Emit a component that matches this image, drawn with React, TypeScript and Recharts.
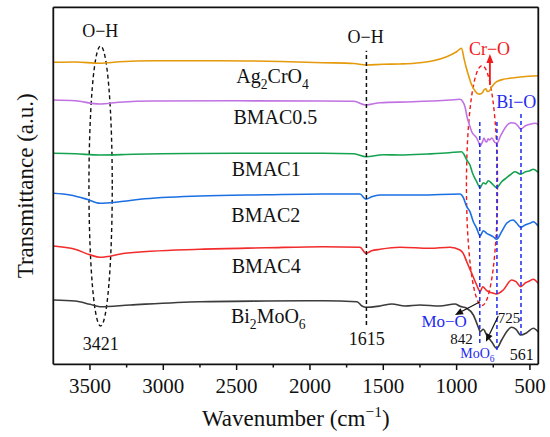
import React from 'react';
import { LineChart, Line, XAxis, YAxis, ReferenceLine, ReferenceArea, ReferenceDot } from 'recharts';

type Pt = { w: number; t: number };
const FONT = '"Liberation Serif", "Times New Roman", serif';
const TXT = { fontFamily: FONT };

const P = (arr: number[][]): Pt[] => arr.map(([w, t]) => ({ w, t }));

// Wavenumber (cm-1) vs transmittance (a.u., stacked offsets)
const ag2cro4 = P([
  [3750, 302], [3600, 302.3], [3434, 301], [3300, 302.5], [3070, 303.6], [2615, 303.6], [2200, 302.8],
  [1911, 301.6], [1700, 300.8], [1618, 299.3], [1500, 300], [1387, 300.3], [1250, 301.5], [1159, 303.6],
  [1068, 307.6], [1000, 312.6], [966, 316], [950, 306], [935, 297], [915, 287], [897, 279.3], [875, 273.5],
  [855, 270.5], [842, 270.2], [825, 271.5], [812, 274.5], [800, 275.5], [790, 272.8], [775, 273.5],
  [760, 277.5], [727, 282.6], [680, 285], [636, 286], [550, 287.5], [445, 288.6],
]);
const bmac05 = P([
  [3750, 264.3], [3600, 263.5], [3434, 260.3], [3300, 262], [3070, 263.3], [2500, 263.5], [1911, 263.3],
  [1700, 263], [1618, 259.3], [1522, 261.6], [1300, 262.5], [1045, 264.3], [977, 265], [955, 262],
  [943, 257.6], [929, 247.6], [910, 238], [897, 232.6], [863, 226.3], [850, 222], [840, 218.3], [825, 222],
  [813, 226.3], [803, 223], [795, 222.3], [785, 225.5], [776, 224.3], [759, 226.3], [740, 222], [725, 221.3],
  [701, 228.3], [680, 234], [659, 238.6], [625, 241.5], [602, 241], [580, 238], [563, 235.3], [530, 238.5],
  [500, 240], [459, 241], [445, 239.3],
]);
const bmac1 = P([
  [3750, 211], [3600, 210.5], [3432, 209.3], [3200, 210], [2500, 211], [1911, 211], [1700, 210.5],
  [1618, 207.6], [1500, 209.5], [1386, 209.3], [1200, 210.3], [1050, 211.5], [966, 212.6], [950, 210],
  [931, 204.3], [909, 199.3], [891, 191], [863, 182.6], [840, 176.6], [818, 181.6], [802, 180.3],
  [784, 183.6], [761, 181], [740, 178], [727, 176.6], [693, 182.6], [660, 186.5], [636, 189.3],
  [602, 192.6], [563, 190], [530, 192.5], [500, 193.6], [477, 195], [445, 192],
]);
const bmac2 = P([
  [3750, 171], [3636, 169.3], [3520, 165], [3432, 161], [3300, 162.5], [3159, 165], [2750, 168.3],
  [2300, 169.5], [1911, 170.3], [1659, 170.3], [1618, 165], [1580, 167.5], [1522, 169.3], [1250, 169.3],
  [977, 170.3], [955, 167], [931, 157.6], [909, 152.6], [886, 142.6], [863, 136], [840, 128.3],
  [818, 133.6], [795, 131], [773, 129.3], [750, 127.5], [727, 125], [693, 132.6], [659, 141],
  [614, 144.3], [590, 141], [563, 137], [530, 139.5], [500, 141], [477, 142.6], [445, 138.3],
]);
const bmac4 = P([
  [3750, 118.3], [3602, 115], [3500, 109.5], [3432, 107], [3261, 111], [2750, 115], [2300, 116.5],
  [1911, 117.6], [1659, 117], [1618, 111], [1580, 113.5], [1522, 115], [1386, 117], [1182, 116],
  [1045, 117], [977, 114.3], [955, 111], [931, 102.6], [897, 91], [863, 79.3], [840, 72.6], [822, 77.6],
  [795, 73.6], [760, 71.5], [727, 70.3], [682, 74.3], [625, 84.3], [595, 82.6], [563, 77.6], [530, 81.5],
  [500, 83.6], [477, 85], [445, 81],
]);
const bi2moo6 = P([
  [3750, 64.3], [3602, 63.3], [3500, 60], [3432, 57.6], [3227, 59.3], [2750, 62.6], [2300, 63.3],
  [1911, 63.6], [1679, 62.6], [1645, 58.3], [1618, 57], [1522, 58.3], [1441, 60.3], [1352, 58.3],
  [1250, 59.3], [1114, 58.3], [1011, 60.3], [977, 58], [931, 56], [886, 49.3], [852, 37], [840, 32.6],
  [818, 35], [795, 29.3], [761, 22.6], [727, 16], [693, 24.3], [659, 32.6], [625, 37], [595, 35],
  [563, 29.3], [522, 31.6], [477, 36], [445, 32.6],
]);

const SERIES = [
  { key: 'Ag2CrO4', data: ag2cro4, color: '#E59A0C' },
  { key: 'BMAC0.5', data: bmac05, color: '#C172E2' },
  { key: 'BMAC1', data: bmac1, color: '#15A350' },
  { key: 'BMAC2', data: bmac2, color: '#1B6FE3' },
  { key: 'BMAC4', data: bmac4, color: '#F22B2B' },
  { key: 'Bi2MoO6', data: bi2moo6, color: '#3C3C3C' },
];

const X_DOMAIN = [443, 3750];
const Y_DOMAIN = [0, 357];
const MAJOR_TICKS = [500, 1000, 1500, 2000, 2500, 3000, 3500];
const MINOR_TICKS = [750, 1250, 1750, 2250, 2750, 3250];
const ALL_TICKS = [...MAJOR_TICKS, ...MINOR_TICKS].sort((a, b) => a - b);

type Part = { s: string; sub?: boolean; sup?: boolean };
const SAMPLE_LABELS: { parts: Part[]; w: number; t: number }[] = [
  { parts: [{ s: 'Ag' }, { s: '2', sub: true }, { s: 'CrO' }, { s: '4', sub: true }], w: 2255, t: 281 },
  { parts: [{ s: 'BMAC0.5' }], w: 2236, t: 240.3 },
  { parts: [{ s: 'BMAC1' }], w: 2298, t: 188.3 },
  { parts: [{ s: 'BMAC2' }], w: 2301, t: 142.6 },
  { parts: [{ s: 'BMAC4' }], w: 2298, t: 91 },
  { parts: [{ s: 'Bi' }, { s: '2', sub: true }, { s: 'MoO' }, { s: '6', sub: true }], w: 2284, t: 41 },
];

const ANNOT_TEXTS: { parts: Part[]; w: number; t: number; size: number; color: string }[] = [
  { parts: [{ s: 'O\u2212H' }], w: 3430, t: 327, size: 18, color: '#111' },
  { parts: [{ s: 'O\u2212H' }], w: 1620, t: 321, size: 18, color: '#111' },
  { parts: [{ s: '3421' }], w: 3427, t: 14.3, size: 18, color: '#111' },
  { parts: [{ s: '1615' }], w: 1612, t: 19.3, size: 18, color: '#111' },
  { parts: [{ s: 'Cr\u2212O' }], w: 776, t: 309.3, size: 18, color: '#F21A1A' },
  { parts: [{ s: 'Bi\u2212O' }], w: 593, t: 256.6, size: 18, color: '#1F2BF0' },
  { parts: [{ s: 'Mo\u2212O' }], w: 1085, t: 37.5, size: 17, color: '#1F2BF0' },
  { parts: [{ s: '842' }], w: 966, t: 20, size: 15, color: '#111' },
  { parts: [{ s: '725' }], w: 642, t: 41.6, size: 15, color: '#111' },
  { parts: [{ s: '561' }], w: 556, t: 4.3, size: 16, color: '#111' },
  { parts: [{ s: 'MoO' }, { s: '6', sub: true }], w: 858, t: 6, size: 14, color: '#1F2BF0' },
];

const ELLIPSES = [
  { x1: 3507, x2: 3348, y1: 38.3, y2: 318.3, color: '#111' },
  { x1: 933, x2: 721, y1: 58.8, y2: 298.6, color: '#F21A1A' },
];
const GUIDES = [
  { w: 1615, from: 39.3, to: 313.6, color: '#111' },
  { w: 842, from: 21.3, to: 242.3, color: '#1F2BF0' },
  { w: 725, from: 14.3, to: 242.3, color: '#1F2BF0' },
  { w: 561, from: 29.3, to: 252.3, color: '#1F2BF0' },
];
const ARROWS = [
  { a: [773, 279.3], b: [773, 310.3], color: '#F21A1A', len: 9, half: 3.5, sw: 1.8 },
  { a: [840, 62.6], b: [1011, 49.3], color: '#111', len: 8, half: 3.5, sw: 1.2 },
  { a: [716, 48.3], b: [800, 22.6], color: '#111', len: 8, half: 3.5, sw: 1.2 },
];

const renderParts = (parts: Part[], size: number) => {
  const out: React.ReactNode[] = [];
  let shift = 0;
  parts.forEach((p, i) => {
    let target = 0;
    if (p.sub) target = size * 0.28;
    if (p.sup) target = -size * 0.42;
    const dy = target - shift;
    shift = target;
    out.push(
      <tspan key={i} dy={dy} fontSize={p.sub || p.sup ? size * 0.68 : size}>
        {p.s}
      </tspan>
    );
  });
  return out;
};

const TextShape = (parts: Part[], size: number, color: string) => (props: any) => (
  <text x={props.cx} y={props.cy} textAnchor="middle" style={TXT} fontSize={size} fill={color}>
    {renderParts(parts, size)}
  </text>
);

const EllipseShape = (color: string) => (props: any) => {
  const { x, y, width, height } = props;
  return (
    <ellipse
      cx={x + width / 2}
      cy={y + height / 2}
      rx={Math.abs(width) / 2}
      ry={Math.abs(height) / 2}
      fill="none"
      stroke={color}
      strokeWidth={1.4}
      strokeDasharray="4 3"
    />
  );
};

const ArrowShape = (color: string, len: number, half: number, sw: number) => (props: any) => {
  const { x1, y1, x2, y2 } = props;
  const ang = Math.atan2(y2 - y1, x2 - x1);
  const bx = x2 - len * Math.cos(ang);
  const by = y2 - len * Math.sin(ang);
  const px = half * Math.sin(ang);
  const py = -half * Math.cos(ang);
  return (
    <g>
      <line x1={x1} y1={y1} x2={bx} y2={by} stroke={color} strokeWidth={sw} />
      <polygon points={`${x2},${y2} ${bx + px},${by + py} ${bx - px},${by - py}`} fill={color} />
    </g>
  );
};

const XTick = (props: any) => {
  const { x, y, payload } = props;
  const major = payload.value % 500 === 0;
  return (
    <g>
      <line x1={x} x2={x} y1={y} y2={y + (major ? 5.7 : 3.2)} stroke="#111" strokeWidth={1.5} />
      {major && (
        <text x={x} y={y + 29} textAnchor="middle" style={TXT} fontSize={21} fill="#111">
          {payload.value}
        </text>
      )}
    </g>
  );
};

const XTitle = (props: any) => {
  const vb = props.viewBox || {};
  const cx = vb.x + vb.width / 2;
  const cy = vb.y + 61.7;
  return (
    <text x={cx} y={cy} textAnchor="middle" style={TXT} fontSize={23} fill="#111">
      <tspan>Wavenumber (cm</tspan>
      <tspan dy={-9} fontSize={15.5}>{'\u22121'}</tspan>
      <tspan dy={9}>)</tspan>
    </text>
  );
};

const YTitle = (props: any) => {
  const vb = props.viewBox || {};
  const bx = vb.x + vb.width - 20;
  const cy = vb.y + vb.height / 2;
  return (
    <text
      x={bx}
      y={cy}
      transform={`rotate(-90 ${bx} ${cy})`}
      textAnchor="middle"
      style={TXT}
      fontSize={23}
      fill="#111"
    >
      Transmittance (a.u.)
    </text>
  );
};

export default function App() {
  return (
    <div style={{ position: 'absolute', left: 0, top: 0, width: 550, height: 437, background: '#fff', fontFamily: FONT }}>
      <LineChart width={550} height={437} margin={{ top: 6.3, right: 10.7, bottom: 71.7, left: 52.3 }} style={TXT}>
        <XAxis
          type="number"
          dataKey="w"
          domain={X_DOMAIN}
          reversed
          allowDataOverflow
          ticks={ALL_TICKS}
          interval={0}
          tick={<XTick />}
          tickLine={false}
          tickSize={0}
          tickMargin={0}
          height={1}
          axisLine={{ stroke: '#111', strokeWidth: 1.8 }}
          label={XTitle}
        />
        <XAxis
          xAxisId="top"
          orientation="top"
          type="number"
          dataKey="w"
          domain={X_DOMAIN}
          reversed
          tick={false}
          tickLine={false}
          height={1}
          axisLine={{ stroke: '#111', strokeWidth: 1.8 }}
        />
        <YAxis
          type="number"
          domain={Y_DOMAIN}
          allowDataOverflow
          tick={false}
          tickLine={false}
          width={1}
          axisLine={{ stroke: '#111', strokeWidth: 1.8 }}
          label={YTitle}
        />
        <YAxis
          yAxisId="right"
          orientation="right"
          type="number"
          domain={Y_DOMAIN}
          tick={false}
          tickLine={false}
          width={1}
          axisLine={{ stroke: '#111', strokeWidth: 1.8 }}
        />
        {SERIES.map((s) => (
          <Line
            key={s.key}
            data={s.data}
            dataKey="t"
            name={s.key}
            type="monotone"
            stroke={s.color}
            strokeWidth={1.6}
            dot={false}
            activeDot={false}
            isAnimationActive={false}
          />
        ))}
        {GUIDES.map((g, i) => (
          <ReferenceLine
            key={'g' + i}
            segment={[{ x: g.w, y: g.from }, { x: g.w, y: g.to }]}
            stroke={g.color}
            strokeWidth={1.5}
            strokeDasharray="4 3"
          />
        ))}
        {ELLIPSES.map((e, i) => (
          <ReferenceArea
            key={'e' + i}
            x1={e.x1}
            x2={e.x2}
            y1={e.y1}
            y2={e.y2}
            shape={EllipseShape(e.color)}
          />
        ))}
        {ARROWS.map((a, i) => (
          <ReferenceLine
            key={'a' + i}
            segment={[{ x: a.a[0], y: a.a[1] }, { x: a.b[0], y: a.b[1] }]}
            shape={ArrowShape(a.color, a.len, a.half, a.sw)}
          />
        ))}
        {SAMPLE_LABELS.map((l, i) => (
          <ReferenceDot key={'l' + i} x={l.w} y={l.t} r={0} shape={TextShape(l.parts, 20, '#111')} />
        ))}
        {ANNOT_TEXTS.map((l, i) => (
          <ReferenceDot key={'t' + i} x={l.w} y={l.t} r={0} shape={TextShape(l.parts, l.size, l.color)} />
        ))}
      </LineChart>
    </div>
  );
}
